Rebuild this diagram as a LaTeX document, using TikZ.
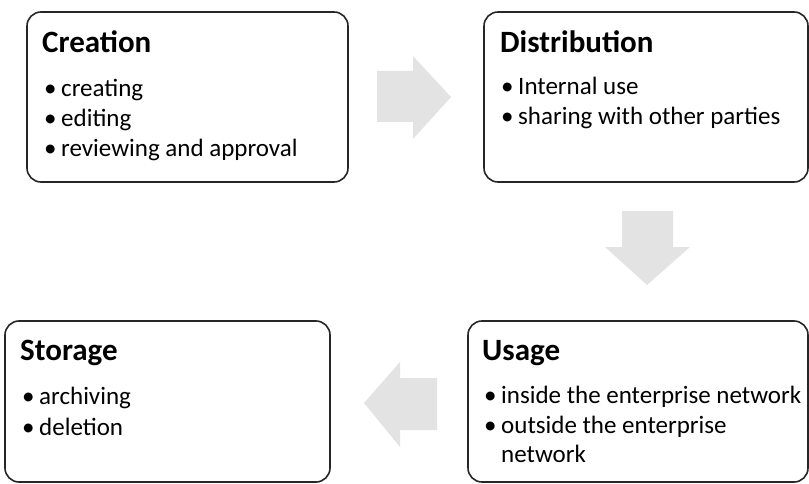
\documentclass[tikz,border=0pt]{standalone}
\usepackage{fontspec}
\setmainfont{Carlito}
\begin{document}
\begin{tikzpicture}[x=1pt,y=-1pt,
  stagebox/.style={draw=black!85,line width=1.6pt,rounded corners=14pt,inner sep=0pt},
  stagetitle/.style={anchor=base west,inner sep=0pt,font=\fontsize{31}{36}\selectfont\bfseries},
  itemtext/.style={anchor=base west,inner sep=0pt,font=\fontsize{25}{30}\selectfont},
  blockarrow/.style={fill=black!11,draw=none}]
\useasboundingbox (0,0) rectangle (809,484);

% stage boxes
\node[stagebox,minimum width=321pt,minimum height=170pt] (creation) at (187.5,97) {};
\node[stagebox,minimum width=324pt,minimum height=170pt] (distribution) at (646,97) {};
\node[stagebox,minimum width=325pt,minimum height=161pt] (storage) at (167.5,401.5) {};
\node[stagebox,minimum width=340pt,minimum height=161pt] (usage) at (638,401.5) {};

% block arrows between the stages
\fill[blockarrow] (377,71) -- (413,71) -- (413,56) -- (451,97) -- (413,139) -- (413,122) -- (377,122) -- cycle;
\fill[blockarrow] (622,211) -- (673,211) -- (673,247) -- (690,247) -- (647,285) -- (605,247) -- (622,247) -- cycle;
\fill[blockarrow] (437,378) -- (400,378) -- (400,362) -- (364,403) -- (400,447) -- (400,430) -- (437,430) -- cycle;

% Creation
\node[stagetitle] (ct) at (42,53) {Creation};
\node[itemtext] (cb1) at (44,97) {\textbullet};
\node[itemtext] (c1) at (61,97) {creating};
\node[itemtext] (cb2) at (44,127) {\textbullet};
\node[itemtext] (c2) at (61,127) {editing};
\node[itemtext] (cb3) at (44,157) {\textbullet};
\node[itemtext] (c3) at (61,157) {reviewing and approval};

% Distribution
\node[stagetitle] (dt) at (500,53) {Distribution};
\node[itemtext] (db1) at (501,95) {\textbullet};
\node[itemtext] (d1) at (518,95) {Internal use};
\node[itemtext] (db2) at (501,125) {\textbullet};
\node[itemtext] (d2) at (518,125) {sharing with other parties};

% Storage
\node[stagetitle] (st) at (20,360) {Storage};
\node[itemtext] (sb1) at (22,404) {\textbullet};
\node[itemtext] (s1) at (39,404) {archiving};
\node[itemtext] (sb2) at (22,435) {\textbullet};
\node[itemtext] (s2) at (39,435) {deletion};

% Usage
\node[stagetitle] (ut) at (482,360) {Usage};
\node[itemtext] (ub1) at (484,403) {\textbullet};
\node[itemtext] (u1) at (501,403) {inside the enterprise network};
\node[itemtext] (ub2) at (484,433) {\textbullet};
\node[itemtext] (u2) at (501,433) {outside the enterprise};
\node[itemtext] (u3) at (501,462) {network};
\end{tikzpicture}
\end{document}
